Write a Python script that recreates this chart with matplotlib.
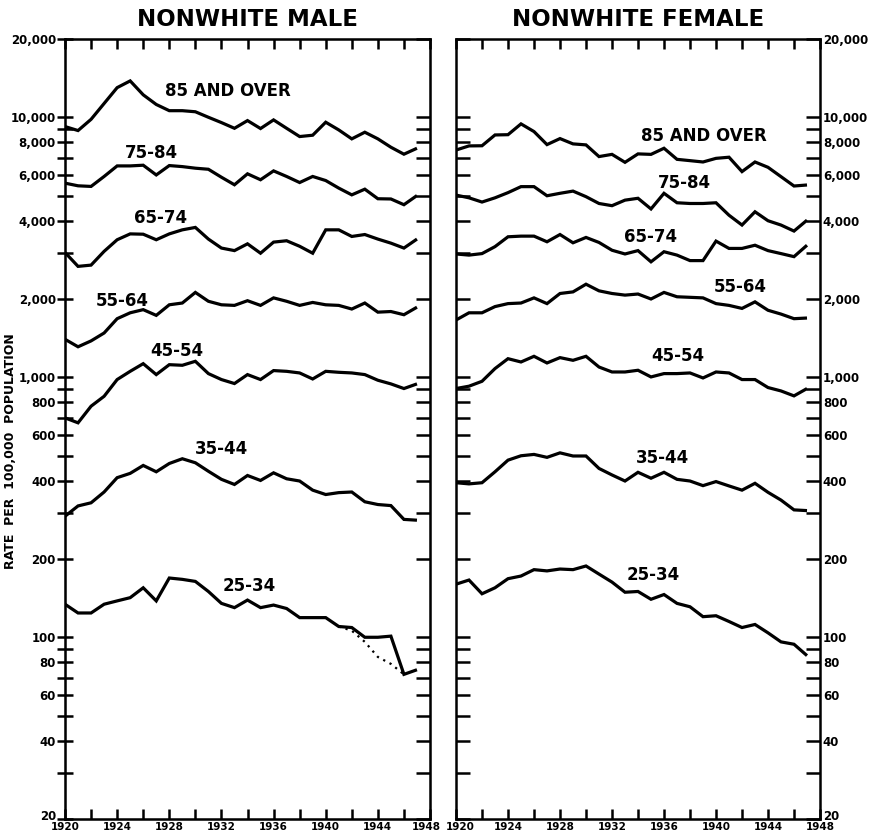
import matplotlib
matplotlib.use("Agg")
import matplotlib.pyplot as plt
from matplotlib.ticker import FixedLocator, FixedFormatter, NullFormatter
from matplotlib.transforms import ScaledTranslation

years = list(range(1920, 1948))
age_groups = ["85 AND OVER", "75-84", "65-74", "55-64", "45-54", "35-44", "25-34"]

male_85 = [9210, 8890, 9820, 11300, 13000, 13800, 12200, 11200, 10600, 10600,
           10500, 10000, 9540, 9070, 9710, 9050, 9770, 9070, 8430, 8530,
           9570, 8940, 8260, 8760, 8260, 7670, 7210, 7600]
male_75 = [5580, 5450, 5420, 5920, 6500, 6500, 6540, 6000, 6520, 6460,
           6370, 6310, 5880, 5500, 6060, 5750, 6220, 5920, 5610, 5920,
           5710, 5340, 5030, 5290, 4860, 4850, 4610, 5000]
male_65 = [3020, 2670, 2700, 3050, 3380, 3560, 3550, 3380, 3560, 3690,
           3770, 3400, 3140, 3070, 3260, 3000, 3310, 3350, 3190, 3000,
           3690, 3690, 3480, 3540, 3400, 3280, 3140, 3400]
male_55 = [1400, 1310, 1380, 1480, 1680, 1770, 1820, 1730, 1900, 1930,
           2120, 1960, 1900, 1890, 1970, 1890, 2020, 1960, 1890, 1940,
           1900, 1890, 1830, 1930, 1780, 1790, 1740, 1860]
male_45 = [698, 668, 774, 845, 980, 1054, 1128, 1024, 1118, 1112,
           1152, 1033, 980, 946, 1024, 980, 1061, 1054, 1039, 985,
           1054, 1045, 1039, 1024, 974, 943, 905, 943]
male_35 = [292, 320, 329, 362, 411, 427, 458, 433, 466, 486,
           469, 435, 405, 387, 419, 401, 429, 407, 399, 368,
           354, 360, 362, 332, 324, 321, 284, 282]
male_25 = [134, 124, 124, 134, 138, 142, 155, 138, 169, 167,
           164, 150, 135, 130, 139, 130, 133, 129, 119, 119,
           119, 110, 109, 100, 100, 101, 72, 75]
male_25_dotted_years = [1941, 1942, 1943, 1944, 1945, 1946]
male_25_dotted = [110, 106, 96, 84, 79, 72]

female_85 = [7480, 7760, 7770, 8550, 8570, 9430, 8810, 7850, 8280, 7900,
             7830, 7060, 7200, 6710, 7230, 7200, 7600, 6890, 6810, 6730,
             6950, 7020, 6180, 6730, 6420, 5910, 5440, 5490]
female_75 = [5020, 4900, 4720, 4900, 5130, 5410, 5410, 4990, 5100, 5200,
             4950, 4660, 4570, 4800, 4880, 4440, 5100, 4690, 4660, 4660,
             4690, 4200, 3850, 4330, 4000, 3850, 3650, 4020]
female_65 = [2980, 2950, 2990, 3180, 3470, 3490, 3490, 3320, 3540, 3290,
             3450, 3300, 3080, 2980, 3070, 2780, 3040, 2950, 2810, 2810,
             3340, 3130, 3130, 3220, 3070, 2990, 2910, 3220]
female_55 = [1660, 1770, 1770, 1870, 1920, 1930, 2020, 1920, 2100, 2130,
             2280, 2150, 2100, 2070, 2090, 2000, 2120, 2040, 2030, 2020,
             1920, 1890, 1840, 1950, 1810, 1750, 1680, 1690]
female_45 = [905, 924, 965, 1080, 1179, 1145, 1204, 1135, 1190, 1162,
             1204, 1095, 1048, 1048, 1064, 1003, 1033, 1033, 1039, 994,
             1048, 1039, 980, 980, 913, 886, 848, 905]
female_35 = [393, 389, 393, 433, 480, 499, 505, 492, 512, 498,
             498, 446, 421, 399, 431, 409, 431, 405, 399, 383,
             397, 382, 368, 391, 361, 337, 309, 307]
female_25 = [160, 166, 147, 155, 168, 172, 182, 180, 183, 182,
             188, 175, 163, 149, 150, 140, 146, 135, 131, 120,
             121, 115, 109, 112, 104, 96, 94, 85]

major_ticks = [20, 40, 60, 80, 100, 200, 400, 600, 800, 1000,
               2000, 4000, 6000, 8000, 10000, 20000]
major_labels = ["20", "40", "60", "80", "100", "200", "400", "600", "800", "1,000",
                "2,000", "4,000", "6,000", "8,000", "10,000", "20,000"]
minor_ticks = [30, 50, 70, 90, 300, 500, 700, 900, 3000, 5000, 7000, 9000]
x_label_years = [1920, 1924, 1928, 1932, 1936, 1940, 1944, 1948]
x_minor_years = [1922, 1926, 1930, 1934, 1938, 1942, 1946]

titles = ["NONWHITE MALE", "NONWHITE FEMALE"]
ylabel_text = "RATE PER 100,000 POPULATION"

male_series = [male_85, male_75, male_65, male_55, male_45, male_35, male_25]
female_series = [female_85, female_75, female_65, female_55, female_45, female_35, female_25]

male_label_pos = [(1932.5, 12600), (1926.6, 7300), (1927.3, 4080), (1924.4, 1960),
                  (1928.6, 1266), (1932.0, 532), (1934.1, 157)]
female_label_pos = [(1939.1, 8480), (1937.6, 5600), (1935.0, 3450), (1941.9, 2220),
                    (1937.1, 1207), (1935.9, 490), (1935.2, 173)]

plt.rcParams["font.family"] = ["DejaVu Sans"]
plt.rcParams["font.weight"] = "bold"

fig = plt.figure(figsize=(8.81, 8.38), dpi=100)
ax_m = fig.add_axes([65 / 881, 19 / 838, 365 / 881, 780 / 838])
ax_f = fig.add_axes([456 / 881, 19 / 838, 364 / 881, 780 / 838])

LW = 2.3
TW = 1.8


def set_yticks(a):
    a.set_yscale("log")
    a.set_ylim(20, 20000)
    a.yaxis.set_major_locator(FixedLocator(major_ticks))
    a.yaxis.set_minor_locator(FixedLocator(minor_ticks))
    a.yaxis.set_minor_formatter(NullFormatter())
    a.yaxis.set_major_formatter(FixedFormatter(major_labels))


def shift(label, dx, dy):
    label.set_transform(label.get_transform() +
                        ScaledTranslation(dx / 72, dy / 72, fig.dpi_scale_trans))


for ax, series, lpos, title in [
    (ax_m, male_series, male_label_pos, titles[0]),
    (ax_f, female_series, female_label_pos, titles[1]),
]:
    ax.set_xlim(1920, 1948)
    set_yticks(ax)
    for vals in series:
        ax.plot(years, vals, color="black", lw=LW, solid_joinstyle="miter",
                solid_capstyle="butt")
    for name, (xx, yy) in zip(age_groups, lpos):
        ax.text(xx, yy, name, ha="center", va="center", fontsize=12,
                fontweight="bold", color="black")
    ax.xaxis.set_major_locator(FixedLocator(x_label_years))
    ax.xaxis.set_major_formatter(FixedFormatter([str(y) for y in x_label_years]))
    ax.xaxis.set_minor_locator(FixedLocator(x_minor_years))
    ax.tick_params(axis="x", which="both", direction="in", top=True, bottom=True,
                   length=7, width=TW, labelsize=7.5, pad=2)
    for sp in ax.spines.values():
        sp.set_linewidth(TW)
    ax.set_title(title, fontsize=16.5, fontweight="bold", pad=9)

# male panel: labelled ticks crossing the left spine, inward ticks on the right
ax_m.tick_params(axis="y", which="both", direction="inout", left=True, right=False,
                 labelleft=True, length=11, width=TW, labelsize=8.5, pad=1)
ax_m2 = ax_m.twinx()
set_yticks(ax_m2)
ax_m2.tick_params(axis="y", which="both", direction="in", left=False, right=True,
                  labelright=False, length=10, width=TW)

# female panel: inward ticks both sides, labels on the right
ax_f.tick_params(axis="y", which="both", direction="in", left=True, right=True,
                 labelleft=False, labelright=True, length=10, width=TW,
                 labelsize=8.5, pad=2)

ax_m.plot(male_25_dotted_years, male_25_dotted, color="black", lw=1.6,
          linestyle=(0, (1, 2.2)))

fig.text(0.012, 0.462, ylabel_text.replace(" ", "  "), rotation=90, ha="center",
         va="center", fontsize=9, fontweight="bold")

fig.canvas.draw()
mt = ax_m.xaxis.get_major_ticks()
shift(mt[-1].label1, -3, 0)
ft = ax_f.xaxis.get_major_ticks()
shift(ft[0].label1, 3, 0)
shift(ax_m.yaxis.get_major_ticks()[0].label1, 0, 3)
shift(ax_f.yaxis.get_major_ticks()[0].label2, 0, 3)

fig.savefig("out.png", dpi=100)
